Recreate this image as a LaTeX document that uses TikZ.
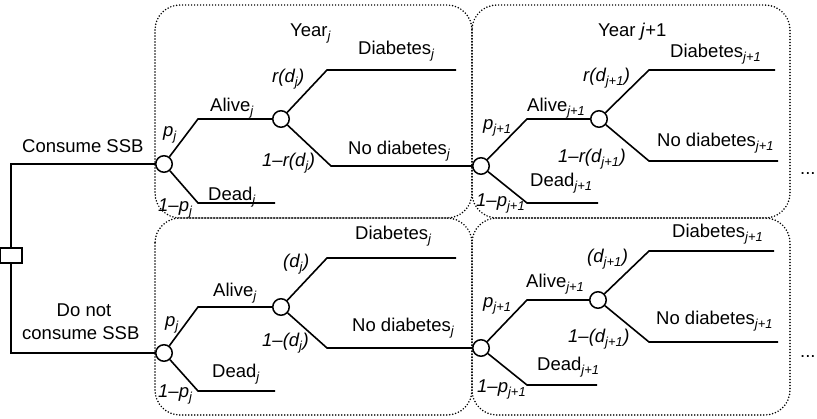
\documentclass[tikz,border=0pt]{standalone}
\usepackage{fontspec}
\setmainfont{Liberation Sans}
\newcommand{\lsub}[1]{\textsubscript{\itshape #1}}
\begin{document}
\begin{tikzpicture}[x=1pt,y=-1pt,
  every node/.style={font=\fontsize{18.5pt}{22pt}\selectfont},
  lab/.style={anchor=base west, inner sep=0pt},
  chance/.style={circle, draw, fill=white, minimum size=16.5pt, inner sep=0pt, line width=1.5pt},
  decision/.style={rectangle, draw, fill=white, minimum width=22pt, minimum height=15pt, inner sep=0pt, line width=1.5pt},
  branch/.style={line width=1.6pt},
  yearbox/.style={draw, line width=1.7pt, line cap=round, dash pattern=on 0pt off 3pt, rounded corners=25pt}]
\useasboundingbox (0,0) rectangle (817,419);

% yearly cycles
\draw[yearbox] (155,5) rectangle (472,218);
\draw[yearbox] (472,5) rectangle (790,218);
\draw[yearbox] (155,218) rectangle (472,415);
\draw[yearbox] (472,218) rectangle (790,415);

% decision and chance nodes
\node[decision] (dec) at (11,255.5) {};
\node[chance] (c1) at (164,164) {};
\node[chance] (c2) at (281,119) {};
\node[chance] (c3) at (481,166) {};
\node[chance] (c4) at (599,119) {};
\node[chance] (d1) at (164,353) {};
\node[chance] (d2) at (281,307) {};
\node[chance] (d3) at (481,348) {};
\node[chance] (d4) at (598,300) {};

% bends and branch ends
\coordinate (ca1) at (198,119);  \coordinate (cb1) at (198,203);  \coordinate (ce1) at (275,203);
\coordinate (ca2) at (327,70);   \coordinate (cf2) at (456,70);   \coordinate (cb2) at (331,166);
\coordinate (ca3) at (527,119);  \coordinate (cb3) at (527,203);  \coordinate (ce3) at (598,203);
\coordinate (ca4) at (649,70);   \coordinate (cf4) at (775,70);
\coordinate (cb4) at (649,161);  \coordinate (cg4) at (778,161);
\coordinate (da1) at (198,307);  \coordinate (db1) at (198,391);  \coordinate (de1) at (275,391);
\coordinate (da2) at (327,258);  \coordinate (df2) at (456,258);  \coordinate (db2) at (327,348);
\coordinate (da3) at (527,300);  \coordinate (db3) at (527,385);  \coordinate (de3) at (597,385);
\coordinate (da4) at (649,251);  \coordinate (df4) at (774,251);
\coordinate (db4) at (649,342);  \coordinate (dg4) at (778,342);

% connectors
\draw[branch] (dec.north) |- (c1);
\draw[branch] (dec.south) |- (d1);
\draw[branch] (c1) -- (ca1) -- (c2);
\draw[branch] (c1) -- (cb1) -- (ce1);
\draw[branch] (c2) -- (ca2) -- (cf2);
\draw[branch] (c2) -- (cb2) -- (c3);
\draw[branch] (c3) -- (ca3) -- (c4);
\draw[branch] (c3) -- (cb3) -- (ce3);
\draw[branch] (c4) -- (ca4) -- (cf4);
\draw[branch] (c4) -- (cb4) -- (cg4);
\draw[branch] (d1) -- (da1) -- (d2);
\draw[branch] (d1) -- (db1) -- (de1);
\draw[branch] (d2) -- (da2) -- (df2);
\draw[branch] (d2) -- (db2) -- (d3);
\draw[branch] (d3) -- (da3) -- (d4);
\draw[branch] (d3) -- (db3) -- (de3);
\draw[branch] (d4) -- (da4) -- (df4);
\draw[branch] (d4) -- (db4) -- (dg4);

% labels: consume branch
\node[lab] (tcons) at (22,153) {Consume SSB};
\node[lab] (tyr1) at (290,37) {Year\lsub{j}};
\node[lab] (tdia1) at (358,55) {Diabetes\lsub{j}};
\node[lab] (tr1) at (272,83) {\itshape r(d\lsub{j})};
\node[lab] (tal1) at (210,112) {Alive\lsub{j}};
\node[lab] (tp1) at (163,137) {\itshape p\lsub{j}};
\node[lab] (tnr1) at (262,167) {\itshape 1--r(d\lsub{j})};
\node[lab] (tno1) at (348,155) {No diabetes\lsub{j}};
\node[lab] (tde1) at (208,201) {Dead\lsub{j}};
\node[lab] (tq1) at (158,212) {\itshape 1--p\lsub{j}};
\node[lab] (tyr2) at (598,37) {Year \textit{j}+1};
\node[lab] (tdia2) at (670,58) {Diabetes\lsub{j+1}};
\node[lab] (tr2) at (583,82) {\itshape r(d\lsub{j+1})};
\node[lab] (tal2) at (527,112) {Alive\lsub{j+1}};
\node[lab] (tp2) at (483,130) {\itshape p\lsub{j+1}};
\node[lab] (tno2) at (657,147) {No diabetes\lsub{j+1}};
\node[lab] (tnr2) at (558,163) {\itshape 1--r(d\lsub{j+1})};
\node[lab] (tde2) at (530,187) {Dead\lsub{j+1}};
\node[lab] (tq2) at (476,207) {\itshape 1--p\lsub{j+1}};
\node[lab] (tdots1) at (800,175) {...};

% labels: do-not-consume branch
\node[anchor=base, inner sep=0pt] (tnot) at (84,317) {Do not};
\node[lab] (tnot2) at (22,340) {consume SSB};
\node[lab] (udia1) at (355,240) {Diabetes\lsub{j}};
\node[lab] (ur1) at (283,268) {\itshape (d\lsub{j})};
\node[lab] (ual1) at (213,297) {Alive\lsub{j}};
\node[lab] (up1) at (165,327) {\itshape p\lsub{j}};
\node[lab] (unr1) at (262,347) {\itshape 1--(d\lsub{j})};
\node[lab] (uno1) at (352,332) {No diabetes\lsub{j}};
\node[lab] (ude1) at (212,378) {Dead\lsub{j}};
\node[lab] (uq1) at (158,398) {\itshape 1--p\lsub{j}};
\node[lab] (udia2) at (672,238) {Diabetes\lsub{j+1}};
\node[lab] (ur2) at (587,263) {\itshape (d\lsub{j+1})};
\node[lab] (ual2) at (526,288) {Alive\lsub{j+1}};
\node[lab] (up2) at (483,308) {\itshape p\lsub{j+1}};
\node[lab] (uno2) at (656,325) {No diabetes\lsub{j+1}};
\node[lab] (unr2) at (568,343) {\itshape 1--(d\lsub{j+1})};
\node[lab] (ude2) at (537,371) {Dead\lsub{j+1}};
\node[lab] (uq2) at (477,393) {\itshape 1--p\lsub{j+1}};
\node[lab] (udots1) at (800,358) {...};
\end{tikzpicture}
\end{document}
